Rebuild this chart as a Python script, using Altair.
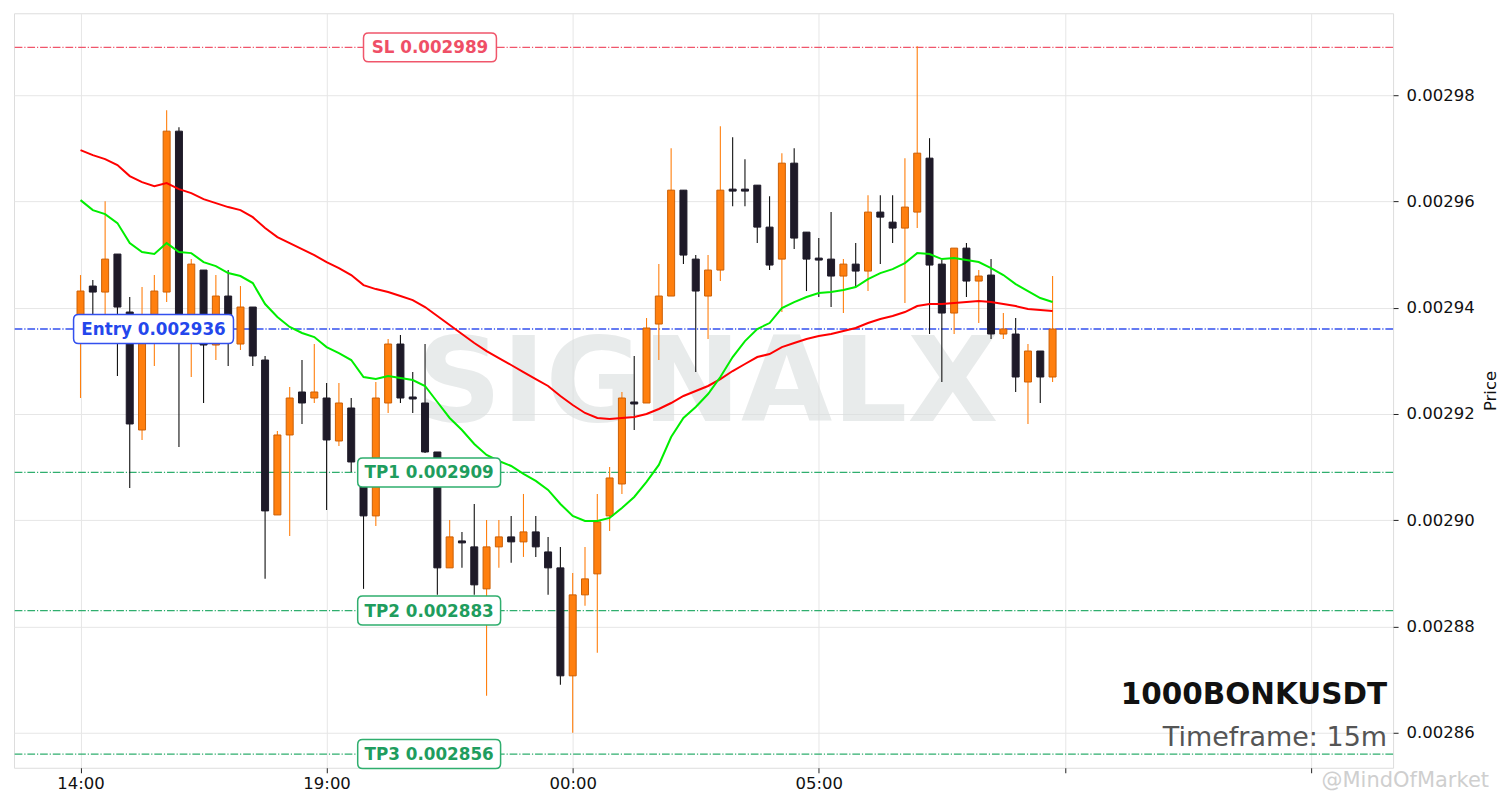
import altair as alt
import pandas as pd
from datetime import datetime, timedelta, timezone

# ---------------- data (prices in units of 1e-6 USDT) ----------------
START = datetime(2024, 1, 1, 14, 0, tzinfo=timezone.utc)
STEP_MIN = 15

opens = [2937.31, 2944.08, 2942.95, 2950.10, 2939.19, 2916.99, 2937.68, 2942.95, 2973.23, 2935.80,
         2947.09, 2932.98, 2942.20, 2933.17, 2940.13, 2930.16, 2901.00, 2916.05, 2924.14, 2923.01,
         2923.01, 2914.92, 2921.13, 2910.97, 2900.82, 2922.07, 2933.17, 2923.20, 2922.07, 2912.85,
         2891.04, 2896.11, 2894.99, 2887.09, 2894.99, 2896.87, 2895.93, 2897.81, 2894.04, 2891.04,
         2870.72, 2885.96, 2889.91, 2900.82, 2906.83, 2922.26, 2922.07, 2936.93, 2942.20, 2962.13,
         2949.15, 2942.20, 2947.09, 2962.32, 2962.32, 2963.07, 2955.17, 2949.15, 2967.21, 2954.23,
         2949.34, 2949.15, 2945.96, 2948.21, 2946.90, 2958.00, 2956.11, 2954.99, 2958.00, 2968.15,
         2948.21, 2939.00, 2951.22, 2945.02, 2946.15, 2935.05, 2935.05, 2926.02, 2931.85, 2926.96]
highs = [2946.15, 2945.20, 2960.06, 2950.10, 2942.01, 2943.89, 2946.15, 2977.18, 2973.98, 2949.15,
         2947.09, 2946.15, 2947.09, 2944.08, 2940.13, 2930.91, 2916.80, 2925.08, 2930.16, 2933.17,
         2925.83, 2925.83, 2923.01, 2911.72, 2926.02, 2934.11, 2934.86, 2927.90, 2933.17, 2912.85,
         2900.06, 2897.81, 2903.07, 2900.06, 2900.06, 2900.82, 2904.95, 2900.82, 2896.87, 2894.99,
         2890.09, 2894.99, 2904.95, 2910.03, 2924.14, 2930.91, 2938.06, 2948.21, 2970.03, 2962.13,
         2949.91, 2949.91, 2974.17, 2972.10, 2967.96, 2963.07, 2961.00, 2969.09, 2970.03, 2954.23,
         2953.11, 2958.00, 2949.15, 2952.16, 2961.19, 2961.19, 2961.19, 2968.15, 2989.22, 2971.91,
         2948.97, 2951.22, 2952.16, 2947.09, 2949.15, 2939.00, 2938.06, 2933.17, 2931.85, 2945.96]
lows = [2923.01, 2938.06, 2937.31, 2927.15, 2906.08, 2915.11, 2929.03, 2941.07, 2913.79, 2926.96,
        2922.07, 2930.16, 2929.03, 2932.04, 2929.03, 2888.97, 2901.00, 2897.05, 2918.12, 2922.07,
        2901.94, 2913.98, 2909.09, 2887.09, 2898.93, 2920.19, 2922.07, 2920.19, 2912.67, 2885.96,
        2891.04, 2891.04, 2885.96, 2866.96, 2891.04, 2891.98, 2893.10, 2893.10, 2885.96, 2869.03,
        2860.00, 2883.89, 2875.05, 2897.99, 2904.95, 2916.99, 2922.07, 2930.16, 2942.20, 2948.21,
        2927.90, 2934.11, 2945.02, 2959.12, 2959.12, 2952.16, 2947.09, 2939.19, 2951.04, 2943.14,
        2942.01, 2940.13, 2939.00, 2943.89, 2943.14, 2948.21, 2952.16, 2940.88, 2954.99, 2935.05,
        2926.02, 2935.05, 2942.01, 2937.12, 2934.11, 2934.11, 2924.14, 2918.12, 2922.07, 2926.02]
closes = [2943.14, 2942.95, 2949.15, 2940.13, 2918.12, 2937.31, 2943.14, 2973.23, 2936.55, 2948.21,
          2932.98, 2942.20, 2938.06, 2940.13, 2930.91, 2901.76, 2916.05, 2923.01, 2922.07, 2924.14,
          2915.11, 2922.07, 2910.97, 2900.82, 2923.01, 2933.17, 2923.01, 2922.82, 2912.85, 2891.04,
          2896.87, 2895.74, 2887.84, 2894.99, 2896.87, 2895.93, 2897.81, 2894.99, 2891.04, 2870.72,
          2885.96, 2888.97, 2899.69, 2907.96, 2923.01, 2921.88, 2936.18, 2942.20, 2962.13, 2949.91,
          2943.14, 2947.09, 2962.13, 2961.95, 2961.95, 2955.17, 2948.03, 2967.21, 2953.11, 2949.15,
          2948.97, 2945.96, 2948.21, 2946.90, 2958.00, 2957.05, 2954.99, 2958.94, 2969.09, 2948.03,
          2939.00, 2951.22, 2945.02, 2945.96, 2935.05, 2935.99, 2926.96, 2931.85, 2926.96, 2935.99]
ema_fast = [2960.25, 2958.37, 2957.62, 2955.93, 2952.16, 2950.47, 2950.10, 2952.16, 2950.47, 2950.28,
            2948.59, 2947.84, 2946.52, 2945.96, 2944.64, 2940.69, 2938.25, 2936.37, 2935.24, 2934.48,
            2932.60, 2931.47, 2930.16, 2926.96, 2926.58, 2927.15, 2926.77, 2926.40, 2925.27, 2922.26,
            2919.25, 2916.99, 2914.36, 2912.29, 2911.16, 2910.22, 2908.72, 2907.40, 2905.71, 2903.07,
            2900.82, 2899.88, 2899.88, 2900.44, 2902.32, 2904.39, 2907.21, 2910.41, 2915.67, 2919.25,
            2921.32, 2923.76, 2926.96, 2930.72, 2933.73, 2935.99, 2937.12, 2939.94, 2941.07, 2942.01,
            2942.76, 2942.95, 2943.32, 2943.89, 2945.39, 2946.52, 2947.27, 2948.40, 2950.28, 2950.10,
            2949.15, 2949.34, 2948.97, 2948.59, 2947.46, 2946.15, 2944.45, 2943.14, 2941.82, 2941.07]
ema_slow = [2969.66, 2968.72, 2967.96, 2966.84, 2964.77, 2963.64, 2962.89, 2963.45, 2962.32, 2961.57,
            2960.44, 2959.69, 2958.94, 2958.37, 2957.05, 2954.99, 2953.29, 2952.16, 2951.04, 2949.91,
            2948.59, 2947.46, 2946.15, 2944.26, 2943.51, 2942.95, 2942.20, 2941.44, 2940.13, 2938.43,
            2936.74, 2935.05, 2933.36, 2931.85, 2930.53, 2929.22, 2927.90, 2926.58, 2925.27, 2923.39,
            2921.69, 2920.19, 2919.25, 2919.06, 2919.25, 2919.44, 2920.00, 2920.94, 2922.07, 2923.39,
            2924.33, 2925.27, 2926.58, 2928.09, 2929.41, 2930.72, 2931.29, 2932.60, 2933.36, 2934.11,
            2934.67, 2935.05, 2935.61, 2936.18, 2937.12, 2937.87, 2938.43, 2939.19, 2940.31, 2940.69,
            2940.69, 2940.88, 2941.07, 2941.26, 2941.07, 2940.69, 2940.31, 2939.75, 2939.56, 2939.37]

level_names = ["SL", "Entry", "TP1", "TP2", "TP3"]
level_prices = [0.002989, 0.002936, 0.002909, 0.002883, 0.002856]
level_colors = ["#f0566b", "#3350ee", "#2fae6e", "#2fae6e", "#2fae6e"]
level_text_colors = ["#ef4f66", "#2447ec", "#1f9d5e", "#1f9d5e", "#1f9d5e"]

y_ticks = [0.00286, 0.00288, 0.00290, 0.00292, 0.00294, 0.00296, 0.00298]
SYMBOL = "1000BONKUSDT"
TIMEFRAME = "Timeframe: 15m"
CREDIT = "@MindOfMarket"

# ---------------- helpers ----------------
SCALE = 1e-6
def iso(d):
    return d.strftime("%Y-%m-%dT%H:%M:%SZ")

times = [START + timedelta(minutes=STEP_MIN * i) for i in range(len(opens))]
df = pd.DataFrame({
    "t": [iso(t) for t in times],
    "open": [v * SCALE for v in opens],
    "high": [v * SCALE for v in highs],
    "low": [v * SCALE for v in lows],
    "close": [v * SCALE for v in closes],
    "ema_fast": [v * SCALE for v in ema_fast],
    "ema_slow": [v * SCALE for v in ema_slow],
})
df["up"] = df["close"] >= df["open"]

def dt(d):
    return alt.DateTime(year=d.year, month=d.month, date=d.day, hours=d.hour,
                        minutes=d.minute, utc=True)

x_lo = START - timedelta(minutes=75)
x_hi = START + timedelta(hours=26, minutes=34)
y_lo, y_hi = 0.00285342, 0.00299542
tick_times = [START + timedelta(hours=5 * k) for k in range(6)]
label_limit_ms = int((START + timedelta(hours=19)).timestamp() * 1000)

x_enc = alt.X("t:T", scale=alt.Scale(type="utc", domain=[dt(x_lo), dt(x_hi)], nice=False),
              axis=alt.Axis(values=[dt(t) for t in tick_times], title=None,
                            labelExpr=f"datum.value < {label_limit_ms} ? utcFormat(datum.value, '%H:%M') : ''",
                            grid=True, gridColor="#e6e6e6", tickColor="#222", tickSize=5,
                            labelFontSize=16.5, labelColor="#111", labelPadding=3, domain=False,
                            labelFont="DejaVu Sans"))
y_scale = alt.Scale(domain=[y_lo, y_hi], zero=False, nice=False)
y_axis = alt.Axis(orient="right", values=y_ticks, format=".5f", title="Price",
                  titleAngle=270, titleBaseline="top", titleFontWeight="normal", titleFontSize=16.5,
                  titleFont="DejaVu Sans", titleColor="#111", titlePadding=8,
                  grid=True, gridColor="#e6e6e6", tickColor="#222", tickSize=5,
                  labelFontSize=16.5, labelColor="#111", labelPadding=8, domain=False,
                  labelFont="DejaVu Sans")

base = alt.Chart(df)

# watermark in the middle of the plot
mid_t = x_lo + (x_hi - x_lo) / 2
wm_df = pd.DataFrame({"t": [iso(mid_t)], "p": [(y_lo + y_hi) / 2], "txt": ["SIGNALX"]})
watermark = alt.Chart(wm_df).mark_text(
    font="DejaVu Sans", fontWeight="bold", fontSize=118, color="#dadede", opacity=0.6,
    align="center", baseline="middle", dx=4, dy=-4
).encode(x=x_enc, y=alt.Y("p:Q", scale=y_scale, axis=y_axis), text="txt:N")

# level lines
lv_df = pd.DataFrame({"name": level_names, "p": level_prices, "col": level_colors,
                      "tcol": level_text_colors})
levels = alt.Chart(lv_df).mark_rule(strokeWidth=1.3, strokeDash=[7.7, 1.9, 1.2, 1.9]).encode(
    y=alt.Y("p:Q", scale=y_scale), color=alt.Color("col:N", scale=None))

color_up, color_dn = "#ff7f0e", "#1e1a28"
wick = base.mark_rule(strokeWidth=1.1).encode(
    x=x_enc, y=alt.Y("low:Q", scale=y_scale), y2="high:Q",
    color=alt.condition("datum.up", alt.value(color_up), alt.value("#111111")))
body = base.mark_bar(size=7, strokeWidth=1).encode(
    x=x_enc, y=alt.Y("open:Q", scale=y_scale), y2="close:Q",
    fill=alt.condition("datum.up", alt.value(color_up), alt.value(color_dn)),
    stroke=alt.condition("datum.up", alt.value("#cc5f05"), alt.value(color_dn)))

line_slow = base.mark_line(color="#ff0000", strokeWidth=2).encode(
    x=x_enc, y=alt.Y("ema_slow:Q", scale=y_scale))
line_fast = base.mark_line(color="#00ee00", strokeWidth=2).encode(
    x=x_enc, y=alt.Y("ema_fast:Q", scale=y_scale))

# level label boxes
def box_path(w, h=29, r=5):
    a, b = w / 2, h / 2
    return (f"M{-a + r},{-b} L{a - r},{-b} Q{a},{-b} {a},{-b + r} L{a},{b - r} Q{a},{b} {a - r},{b} "
            f"L{-a + r},{b} Q{-a},{b} {-a},{b - r} L{-a},{-b + r} Q{-a},{-b} {-a + r},{-b} Z")

label_time = {"SL": START + timedelta(hours=7, minutes=6),
              "Entry": START + timedelta(hours=1, minutes=29)}
box_w = {"SL": 133, "Entry": 160}
lab_rows = []
for n, p, c, tc in zip(level_names, level_prices, level_colors, level_text_colors):
    lab_rows.append({
        "t": iso(label_time.get(n, START + timedelta(hours=7, minutes=5))),
        "p": p, "col": c, "tcol": tc,
        "txt": f"{n} {p:.6f}",
        "shape": box_path(box_w.get(n, 143)),
    })
lab_df = pd.DataFrame(lab_rows)
boxes = alt.Chart(lab_df).mark_point(filled=True, fill="white", fillOpacity=1, opacity=1,
                                     size=4, strokeWidth=1.5).encode(
    x=x_enc, y=alt.Y("p:Q", scale=y_scale),
    shape=alt.Shape("shape:N", scale=None),
    stroke=alt.Stroke("col:N", scale=None))
texts = alt.Chart(lab_df).mark_text(font="DejaVu Sans", fontWeight="bold", fontSize=16.8,
                                    align="center", baseline="middle", dy=1).encode(
    x=x_enc, y=alt.Y("p:Q", scale=y_scale), text="txt:N",
    color=alt.Color("tcol:N", scale=None))

# symbol / timeframe annotation (bottom right of the plot)
ann_df = pd.DataFrame({"a": [SYMBOL], "b": [TIMEFRAME]})
sym = alt.Chart(ann_df).mark_text(font="DejaVu Sans", fontWeight="bold", fontSize=29.5,
                                  color="#111111", align="right", baseline="alphabetic").encode(
    x=alt.value(1374), y=alt.value(691), text="a:N")
tf = alt.Chart(ann_df).mark_text(font="DejaVu Sans", fontSize=27, color="#555555",
                                 align="right", baseline="alphabetic").encode(
    x=alt.value(1374), y=alt.value(733), text="b:N")
credit = alt.Chart(pd.DataFrame({"c": [CREDIT]})).mark_text(
    font="DejaVu Sans", fontSize=21, color="#b0b0b0", opacity=0.6, align="right",
    baseline="middle").encode(x=alt.value(1476), y=alt.value(768), text="c:N")

chart = alt.layer(watermark, levels, wick, body, line_slow, line_fast, boxes, texts, sym, tf, credit
).properties(width=1380, height=755).configure_view(stroke="#cccccc", strokeWidth=1
).configure(background="white")

chart.save("out.html", embed_options={"renderer": "svg", "actions": False})
